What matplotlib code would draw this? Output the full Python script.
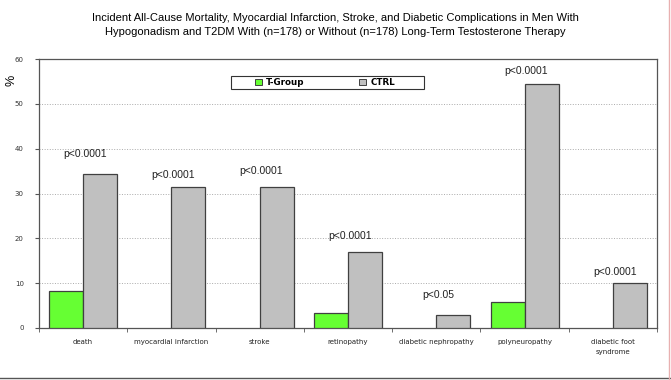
import matplotlib
matplotlib.use("Agg")
import matplotlib.pyplot as plt
import numpy as np
from matplotlib.patches import Rectangle
from matplotlib.lines import Line2D

categories = ["death", "myocardial infarction", "stroke", "retinopathy",
              "diabetic nephropathy", "polyneuropathy", "diabetic foot\nsyndrome"]
t_group = [8.2, 0, 0, 3.4, 0, 5.9, 0]
ctrl = [34.3, 31.5, 31.5, 16.9, 2.8, 54.5, 10.1]
pvals = ["p<0.0001", "p<0.0001", "p<0.0001", "p<0.0001", "p<0.05", "p<0.0001", "p<0.0001"]
yticks = [0, 10, 20, 30, 40, 50, 60]
series_names = ["T-Group", "CTRL"]

title = ("Incident All-Cause Mortality, Myocardial Infarction, Stroke, and Diabetic Complications in Men With\n"
         "Hypogonadism and T2DM With (n=178) or Without (n=178) Long-Term Testosterone Therapy")

plt.rcParams['font.family'] = ['Liberation Sans', 'DejaVu Sans']

fig = plt.figure(figsize=(6.71, 3.80), dpi=100)
ax = fig.add_axes([39/671, 52/380, 618/671, 269/380])

x = np.arange(len(categories))
w = 0.385
green = "#66ff33"
gray = "#c0c0c0"
edge = "#404040"
mask_t = [v > 0 for v in t_group]
ax.bar(x[mask_t] - w/2, np.array(t_group)[mask_t], width=w, color=green, edgecolor=edge, linewidth=0.9, zorder=3)
ax.bar(x + w/2, ctrl, width=w, color=gray, edgecolor=edge, linewidth=0.9, zorder=3)

offsets = [4.5, 2.6, 3.6, 3.6, 4.5, 2.9, 2.5]
for xi, c, p, o in zip(x, ctrl, pvals, offsets):
    ax.text(xi + 0.02, c + o, p, ha="center", va="center", fontsize=7.5, color="#222222")

ax.set_xlim(-0.5, len(categories) - 0.5)
ax.set_ylim(0, 60)
ax.set_yticks(yticks)
ax.set_yticklabels([str(v) for v in yticks], fontsize=5, color="#333333", family="DejaVu Sans")
ax.set_xticks(x)
ax.set_xticklabels(categories, fontsize=5, color="#222222", linespacing=1.7, family="DejaVu Sans")
ax.tick_params(axis="x", length=0, pad=8)
ax.set_xticks(np.arange(-0.5, len(categories), 1), minor=True)
ax.tick_params(axis="x", which="minor", length=3, direction="out", color="#555555")
ax.tick_params(axis="y", length=3, direction="out", color="#555555", pad=8)
ax.yaxis.grid(True, linestyle=":", color="#aaaaaa", linewidth=0.7, zorder=0)
for s in ax.spines.values():
    s.set_color("#555555")
    s.set_linewidth(0.9)

ax.text(-0.044, 0.92, "%", transform=ax.transAxes, rotation=90, fontsize=9,
        ha="center", va="center")

# legend box (manual, to match the reference layout)
ax.add_patch(Rectangle((0.3107, 0.888), 0.3123, 0.049, transform=ax.transAxes,
                       facecolor="white", edgecolor="#333333", linewidth=0.8, zorder=5))
for (xs, xt, col, name) in [(0.349, 0.367, green, series_names[0]),
                            (0.518, 0.536, gray, series_names[1])]:
    ax.add_patch(Rectangle((xs, 0.902), 0.0115, 0.025, transform=ax.transAxes,
                           facecolor=col, edgecolor=edge, linewidth=0.7, zorder=6))
    ax.text(xt, 0.9135, name, transform=ax.transAxes, fontsize=6.3, fontweight="bold",
            ha="left", va="center", zorder=6, family="DejaVu Sans")

fig.text(0.5, 0.965, title, ha="center", va="top", fontsize=8, linespacing=1.5)
fig.add_artist(Line2D([0, 1], [0.004, 0.004], transform=fig.transFigure, color="#555555", linewidth=1))
fig.add_artist(Line2D([0.997, 0.997], [0, 1], transform=fig.transFigure, color="#e8b0b0", linewidth=1))

plt.savefig("out.png", dpi=100)
